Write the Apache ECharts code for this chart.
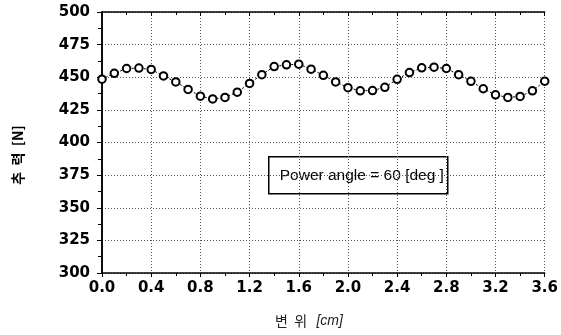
<!DOCTYPE html>
<html>
<head>
<meta charset="utf-8">
<script src="https://cdn.jsdelivr.net/npm/echarts@6/dist/echarts.min.js"></script>
<style>
  html, body { margin: 0; padding: 0; background: #fff; }
  #main { width: 561px; height: 335px; }
</style>
</head>
<body>
<div id="main"></div>
<script>
// 변위 (cm)
var xs = [0.0, 0.1, 0.2, 0.3, 0.4, 0.5, 0.6, 0.7, 0.8, 0.9,
          1.0, 1.1, 1.2, 1.3, 1.4, 1.5, 1.6, 1.7, 1.8, 1.9,
          2.0, 2.1, 2.2, 2.3, 2.4, 2.5, 2.6, 2.7, 2.8, 2.9,
          3.0, 3.1, 3.2, 3.3, 3.4, 3.5, 3.6];
// 추력 (N)
var force = [448.5, 453, 456.7, 457, 456, 451, 446.4, 440.7, 435.5, 433.4,
             434.5, 438.6, 445.3, 452, 458.2, 459.5, 460, 456.2, 451.5, 446.4,
             442, 439.6, 439.8, 442.3, 448.4, 453.6, 457.2, 457.7, 456.7, 452,
             446.9, 441.2, 436.5, 434.5, 435.3, 439.6, 447];
var xTicks = [0, 3.6, 0.4];   // min, max, interval
var yTicks = [300, 500, 25];
var boxText = 'Power angle = 60 [deg ]';

var pts = xs.map(function (x, i) { return [x, force[i]]; });

var myChart = echarts.init(document.getElementById('main'));

var labelFont = {
  color: '#000',
  fontFamily: 'DejaVu Sans',
  fontWeight: 'bold',
  fontSize: 15
};
var gridLine = { lineStyle: { color: '#555', type: [1, 2], width: 1 } };

var option = {
  animation: false,
  grid: { left: 102, right: 14, top: 12, bottom: 62 },
  xAxis: [
    {
      type: 'value',
      min: xTicks[0], max: xTicks[1], interval: xTicks[2],
      axisLine: { lineStyle: { color: '#000', width: 1.5 } },
      axisTick: { length: 4, lineStyle: { color: '#000' } },
      minorTick: { show: true, splitNumber: 2, length: 3, lineStyle: { color: '#000' } },
      axisLabel: Object.assign({ margin: 8, formatter: function (v) { return v.toFixed(1); } }, labelFont),
      splitLine: gridLine
    },
    {
      type: 'value', position: 'top',
      min: xTicks[0], max: xTicks[1], interval: xTicks[2],
      axisLine: { show: true, lineStyle: { color: '#000', width: 1.5 } },
      axisTick: { show: true, inside: true, length: 4, lineStyle: { color: '#000' } },
      minorTick: { show: true, splitNumber: 2, length: 3, lineStyle: { color: '#000' } },
      axisLabel: { show: false },
      splitLine: { show: false }
    }
  ],
  yAxis: [
    {
      type: 'value',
      min: yTicks[0], max: yTicks[1], interval: yTicks[2],
      axisLine: { show: true, lineStyle: { color: '#000', width: 1.5 } },
      axisTick: { show: true, length: 5, lineStyle: { color: '#000' } },
      minorTick: { show: true, splitNumber: 2, length: 4, lineStyle: { color: '#000' } },
      axisLabel: Object.assign({ margin: 12 }, labelFont),
      splitLine: gridLine
    },
    {
      type: 'value', position: 'right',
      min: yTicks[0], max: yTicks[1], interval: yTicks[2],
      axisLine: { show: true, lineStyle: { color: '#000', width: 1.5 } },
      axisTick: { show: false },
      axisLabel: { show: false },
      splitLine: { show: false }
    }
  ],
  graphic: [
    {
      // 범례 상자
      type: 'group',
      left: 268, top: 156,
      z: 100,
      children: [
        {
          type: 'rect',
          shape: { x: 0, y: 0, width: 179, height: 37 },
          style: { fill: '#fff', stroke: '#000', lineWidth: 1.5 }
        },
        {
          type: 'text',
          x: 11, y: 18.5,
          style: {
            text: boxText,
            fill: '#000',
            font: '15.5px "Liberation Sans"',
            textVerticalAlign: 'middle'
          }
        }
      ]
    },
    {
      // x축 이름
      type: 'text',
      left: 275, top: 314,
      style: {
        text: '변  위   {i|[cm]}',
        fill: '#222',
        font: '14px "Noto Sans CJK KR"',
        rich: { i: { fontStyle: 'italic', fontFamily: 'Liberation Sans', fontSize: 14, fill: '#222' } }
      }
    },
    {
      // y축 이름
      type: 'text',
      x: 18, y: 155,
      rotation: Math.PI / 2,
      style: {
        text: '추  력  [N]',
        fill: '#000',
        font: 'bold 14px "Noto Sans CJK KR"',
        textAlign: 'center',
        textVerticalAlign: 'middle'
      }
    }
  ],
  series: [
    {
      type: 'line',
      data: pts,
      symbol: 'emptyCircle',
      symbolSize: 7.5,
      lineStyle: { color: '#000', width: 1, type: [2, 2] },
      itemStyle: { color: '#000', borderColor: '#000', borderWidth: 1.1 },
      z: 10
    }
  ]
};

myChart.setOption(option);
</script>
</body>
</html>
